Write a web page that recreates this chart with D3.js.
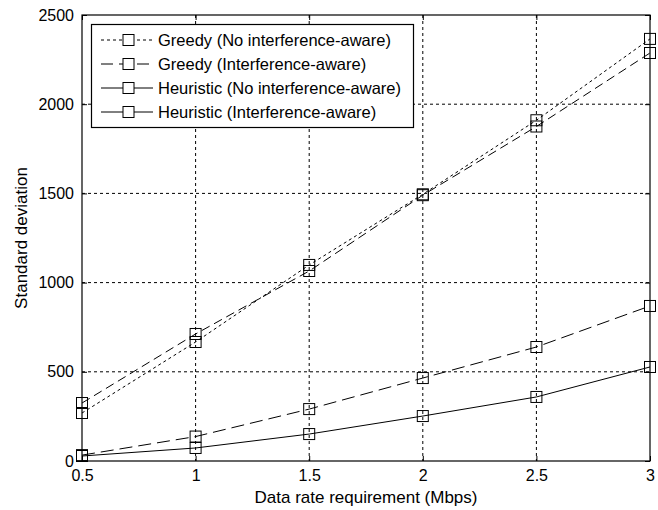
<!DOCTYPE html>
<html><head><meta charset="utf-8">
<script src="https://cdn.jsdelivr.net/npm/d3@7"></script>
<style>body{margin:0;background:#fff}svg{display:block}text{font-family:"Liberation Sans",Arial,sans-serif;fill:#000}</style>
</head><body>
<svg id="c" width="658" height="510"></svg>
<script>
const xValues = [0.5, 1, 1.5, 2, 2.5, 3];
const greedyNoIA = [269, 667, 1099, 1495, 1910, 2366];
const greedyIA = [325, 712, 1065, 1490, 1875, 2287];
const heuristicNoIA = [33, 137, 291, 465, 639, 869];
const heuristicIA = [28, 73, 151, 252, 359, 527];
const seriesNames = ["Greedy (No interference-aware)", "Greedy (Interference-aware)", "Heuristic (No interference-aware)", "Heuristic (Interference-aware)"];
const xTicks = [0.5, 1, 1.5, 2, 2.5, 3];
const yTicks = [0, 500, 1000, 1500, 2000, 2500];

const seriesData = [greedyNoIA, greedyIA, heuristicNoIA, heuristicIA];
const lineDash = ["3,3", "9,5", "13,6", null];
const legendDash = ["3,3", "12,6", null, null];

const svg = d3.select("#c");
const L = 82, R = 650, T = 15, B = 461;
const x = d3.scaleLinear().domain([0.5, 3]).range([L, R]);
const y = d3.scaleLinear().domain([0, 2500]).range([B, T]);

// grid
const g = svg.append("g");
g.selectAll(".gx").data(xTicks.slice(1, -1)).enter().append("line")
  .attr("x1", d => x(d)).attr("x2", d => x(d)).attr("y1", T).attr("y2", B)
  .attr("stroke", "#000").attr("stroke-width", 1).attr("stroke-dasharray", "3,3");
g.selectAll(".gy").data(yTicks.slice(1, -1)).enter().append("line")
  .attr("y1", d => y(d)).attr("y2", d => y(d)).attr("x1", L).attr("x2", R)
  .attr("stroke", "#000").attr("stroke-width", 1).attr("stroke-dasharray", "3,3");

// axes
const xa = svg.append("g").attr("transform", `translate(0,${B})`)
  .call(d3.axisBottom(x).tickValues(xTicks).tickSize(-5).tickPadding(9).tickFormat(d3.format("")));
const xt = svg.append("g").attr("transform", `translate(0,${T})`)
  .call(d3.axisTop(x).tickValues(xTicks).tickSize(-5).tickFormat(""));
const ya = svg.append("g").attr("transform", `translate(${L},0)`)
  .call(d3.axisLeft(y).tickValues(yTicks).tickSize(-5).tickPadding(8).tickFormat(d3.format("")));
const yr = svg.append("g").attr("transform", `translate(${R},0)`)
  .call(d3.axisRight(y).tickValues(yTicks).tickSize(-5).tickFormat(""));
[xa, xt, ya, yr].forEach(a => {
  a.select(".domain").remove();
  a.selectAll("line").attr("stroke", "#000");
  a.selectAll("text").style("font-size", "16px").attr("fill", "#000").style("font-family", '"Liberation Sans",Arial,sans-serif');
});
svg.append("rect").attr("x", L).attr("y", T).attr("width", R - L).attr("height", B - T)
  .attr("fill", "none").attr("stroke", "#000").attr("stroke-width", 1.2);

// lines
const line = d3.line().x((d, i) => x(xValues[i])).y(d => y(d));
seriesData.forEach((s, k) => {
  svg.append("path").datum(s).attr("d", line).attr("fill", "none")
    .attr("stroke", "#000").attr("stroke-width", 1)
    .attr("stroke-dasharray", lineDash[k]);
  svg.selectAll(null).data(s).enter().append("rect")
    .attr("x", (d, i) => x(xValues[i]) - 5.5).attr("y", d => y(d) - 5.5)
    .attr("width", 11).attr("height", 11).attr("fill", "none")
    .attr("stroke", "#000").attr("stroke-width", 1);
});

// legend
const lg = svg.append("g");
lg.append("rect").attr("x", 91.5).attr("y", 24.5).attr("width", 322).attr("height", 103)
  .attr("fill", "#fff").attr("stroke", "#000").attr("stroke-width", 1.2);
seriesNames.forEach((n, k) => {
  const yy = 40 + k * 24;
  lg.append("line").attr("x1", 101).attr("x2", 153).attr("y1", yy).attr("y2", yy)
    .attr("stroke", "#000").attr("stroke-width", 1).attr("stroke-dasharray", legendDash[k]);
  lg.append("rect").attr("x", 123).attr("y", yy - 5.5).attr("width", 11).attr("height", 11)
    .attr("fill", "#fff").attr("stroke", "#000");
  lg.append("text").attr("x", 158).attr("y", yy + 6).text(n).style("font-size", "16.5px");
});

// labels
svg.append("text").attr("x", (L + R) / 2).attr("y", 503).attr("text-anchor", "middle")
  .style("font-size", "17px").text("Data rate requirement (Mbps)");
svg.append("text").attr("transform", `translate(27,${(T + B) / 2}) rotate(-90)`).attr("text-anchor", "middle")
  .style("font-size", "17px").text("Standard deviation");
</script>
</body></html>
